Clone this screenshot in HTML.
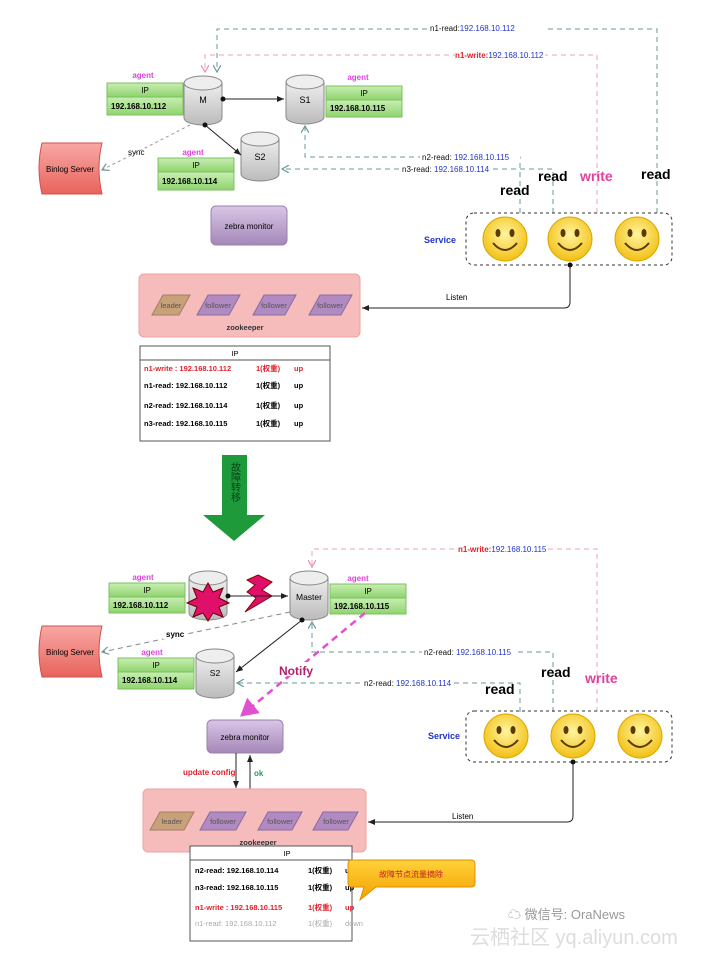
<!DOCTYPE html>
<html><head><meta charset="utf-8"><style>
body{margin:0;background:#fff}
svg{display:block;font-family:"Liberation Sans","Noto Sans CJK SC",sans-serif}
</style></head><body>
<svg width="718" height="958" viewBox="0 0 718 958" xmlns="http://www.w3.org/2000/svg">
<defs>
<linearGradient id="cyl" x1="0" x2="0" y1="0" y2="1"><stop offset="0" stop-color="#eee"/><stop offset="1" stop-color="#bbb"/></linearGradient>
<linearGradient id="zm" x1="0" x2="0" y1="0" y2="1"><stop offset="0" stop-color="#d9c6e6"/><stop offset="1" stop-color="#a487b8"/></linearGradient>
<linearGradient id="bs" x1="0" x2="0" y1="0" y2="1"><stop offset="0" stop-color="#f8a8a4"/><stop offset="1" stop-color="#e8635c"/></linearGradient>
<linearGradient id="gr" x1="0" x2="0" y1="0" y2="1"><stop offset="0" stop-color="#c8eeb4"/><stop offset="1" stop-color="#8fd46e"/></linearGradient>
<radialGradient id="face" cx="0.5" cy="0.4" r="0.6"><stop offset="0" stop-color="#fff4a0"/><stop offset="1" stop-color="#f2c014"/></radialGradient>
<linearGradient id="co" x1="0" x2="0" y1="0" y2="1"><stop offset="0" stop-color="#ffd23a"/><stop offset="1" stop-color="#f4a000"/></linearGradient>
<marker id="ab" markerWidth="8" markerHeight="8" refX="7" refY="4" orient="auto"><path d="M0,1 L7,4 L0,7 Z" fill="#222"/></marker>
<marker id="ag" markerWidth="8" markerHeight="8" refX="7" refY="4" orient="auto"><path d="M0,0 L7,4 L0,8" fill="none" stroke="#6a9a9a" stroke-width="1.2"/></marker>
<marker id="ap" markerWidth="8" markerHeight="8" refX="7" refY="4" orient="auto"><path d="M0,0 L7,4 L0,8" fill="none" stroke="#f08bb0" stroke-width="1.2"/></marker>
<marker id="am" markerWidth="8" markerHeight="8" refX="6" refY="4" orient="auto"><path d="M0,0 L7,4 L0,8 Z" fill="#e050d0"/></marker>
<marker id="dot" markerWidth="6" markerHeight="6" refX="3" refY="3"><circle cx="3" cy="3" r="2.5" fill="#111"/></marker>
<g id="smile"><circle r="22" fill="url(#face)" stroke="#d9a800"/><ellipse cx="-7" cy="-6" rx="2.5" ry="4" fill="#5a3a00"/><ellipse cx="7" cy="-6" rx="2.5" ry="4" fill="#5a3a00"/><path d="M-12,4 Q0,18 12,4" fill="none" stroke="#5a3a00" stroke-width="2"/></g>
</defs>

<!-- ===== TOP ===== -->
<g font-size="8" fill="#111">
<path d="M657,213 V29 H217 V72" fill="none" stroke="#6a9a9a" stroke-dasharray="5,4" marker-end="url(#ag)"/>
<rect x="430" y="22" width="115" height="11" fill="#fff"/>
<text x="430" y="31">n1-read:<tspan fill="#2233cc">192.168.10.112</tspan></text>
<path d="M597,213 V55 H205 V72" fill="none" stroke="#f0a0b8" stroke-dasharray="5,4" marker-end="url(#ap)"/>
<rect x="455" y="49" width="90" height="11" fill="#fff"/>
<text x="455" y="58" fill="#e0202a" font-weight="bold">n1-write:<tspan fill="#2233cc" font-weight="normal">192.168.10.112</tspan></text>
<path d="M520,213 V157 H305 V126" fill="none" stroke="#6a9a9a" stroke-dasharray="5,4" marker-end="url(#ag)"/>
<rect x="420" y="151" width="100" height="11" fill="#fff"/>
<text x="422" y="160">n2-read: <tspan fill="#2233cc">192.168.10.115</tspan></text>
<path d="M553,213 V169 H282" fill="none" stroke="#6a9a9a" stroke-dasharray="5,4" marker-end="url(#ag)"/>
<rect x="400" y="163" width="92" height="11" fill="#fff"/>
<text x="402" y="172">n3-read: <tspan fill="#2233cc">192.168.10.114</tspan></text>
</g>
<g font-weight="bold" font-size="14"><text x="500" y="195">read</text><text x="538" y="181">read</text><text x="580" y="181" fill="#e040a0">write</text><text x="641" y="179">read</text></g>

<!-- M -->
<path d="M184,83 V118 A19,7 0 0 0 222,118 V83" fill="url(#cyl)" stroke="#888"/><ellipse cx="203" cy="83" rx="19" ry="7" fill="#eee" stroke="#888"/>
<text x="203" y="103" font-size="9" text-anchor="middle">M</text>
<path d="M286,82 V117 A19,7 0 0 0 324,117 V82" fill="url(#cyl)" stroke="#888"/><ellipse cx="305" cy="82" rx="19" ry="7" fill="#eee" stroke="#888"/>
<text x="305" y="103" font-size="9" text-anchor="middle">S1</text>
<path d="M241,139 V174 A19,7 0 0 0 279,174 V139" fill="url(#cyl)" stroke="#888"/><ellipse cx="260" cy="139" rx="19" ry="7" fill="#eee" stroke="#888"/>
<text x="260" y="160" font-size="9" text-anchor="middle">S2</text>
<line x1="223" y1="99" x2="284" y2="99" stroke="#222" marker-start="url(#dot)" marker-end="url(#ab)"/>
<line x1="205" y1="125" x2="241" y2="155" stroke="#222" marker-start="url(#dot)" marker-end="url(#ab)"/>
<!-- tables -->
<g font-size="8" font-weight="bold">
<text x="143" y="78" fill="#e040e0" text-anchor="middle">agent</text>
<rect x="107" y="83" width="76" height="14" fill="url(#gr)" stroke="#7cc060"/><rect x="107" y="97" width="76" height="18" fill="url(#gr)" stroke="#7cc060"/>
<text x="145" y="93" text-anchor="middle" font-weight="normal">IP</text><text x="111" y="109">192.168.10.112</text>
<text x="358" y="80" fill="#e040e0" text-anchor="middle">agent</text>
<rect x="326" y="86" width="76" height="14" fill="url(#gr)" stroke="#7cc060"/><rect x="326" y="100" width="76" height="17" fill="url(#gr)" stroke="#7cc060"/>
<text x="364" y="96" text-anchor="middle" font-weight="normal">IP</text><text x="330" y="111">192.168.10.115</text>
<text x="193" y="155" fill="#e040e0" text-anchor="middle">agent</text>
<rect x="158" y="158" width="76" height="14" fill="url(#gr)" stroke="#7cc060"/><rect x="158" y="172" width="76" height="18" fill="url(#gr)" stroke="#7cc060"/>
<text x="196" y="168" text-anchor="middle" font-weight="normal">IP</text><text x="162" y="184">192.168.10.114</text>
</g>
<path d="M42,143 H102 Q96,168 102,194 H42 Q36,168 42,143 Z" fill="url(#bs)" stroke="#d05050"/>
<text x="70" y="172" font-size="8" text-anchor="middle">Binlog Server</text>
<line x1="190" y1="125" x2="102" y2="170" stroke="#999" stroke-dasharray="3,3" marker-end="url(#ag)"/>
<text x="128" y="155" font-size="8">sync</text>
<rect x="211" y="206" width="76" height="39" rx="5" fill="url(#zm)" stroke="#9a80b0"/>
<text x="249" y="229" font-size="8" text-anchor="middle">zebra monitor</text>
<!-- service -->
<rect x="466" y="213" width="206" height="52" rx="8" fill="none" stroke="#333" stroke-dasharray="3,3"/>
<text x="424" y="243" font-size="9" font-weight="bold" fill="#2233cc">Service</text>
<use href="#smile" x="505" y="239"/><use href="#smile" x="570" y="239"/><use href="#smile" x="637" y="239"/>
<path d="M570,265 V302 Q570,308 564,308 H362" fill="none" stroke="#222" marker-start="url(#dot)" marker-end="url(#ab)"/>
<text x="446" y="300" font-size="8">Listen</text>
<!-- zookeeper -->
<rect x="139" y="274" width="221" height="63" rx="5" fill="#f6bcbc" stroke="#f0a0a0"/>
<g font-size="7.5" fill="#555" text-anchor="middle">
<path d="M152,315 L163,295 H190 L179,315 Z" fill="#c8a07a" stroke="#a08060"/><text x="171" y="308">leader</text>
<path d="M197,315 L208,295 H240 L229,315 Z" fill="#b08ac0" stroke="#8a6aa0"/><text x="218" y="308">follower</text>
<path d="M253,315 L264,295 H296 L285,315 Z" fill="#b08ac0" stroke="#8a6aa0"/><text x="274" y="308">follower</text>
<path d="M309,315 L320,295 H352 L341,315 Z" fill="#b08ac0" stroke="#8a6aa0"/><text x="330" y="308">follower</text>
<text x="245" y="330" font-weight="bold" fill="#333">zookeeper</text>
</g>
<rect x="140" y="346" width="190" height="95" fill="#fff" stroke="#555"/><line x1="140" y1="360" x2="330" y2="360" stroke="#555"/>
<g font-size="7.5" font-weight="bold">
<text x="235" y="356" text-anchor="middle" font-weight="normal">IP</text>
<g fill="#e0202a"><text x="144" y="371">n1-write : 192.168.10.112</text><text x="256" y="371">1(权重)</text><text x="294" y="371">up</text></g>
<text x="144" y="388">n1-read:   192.168.10.112</text><text x="256" y="388">1(权重)</text><text x="294" y="388">up</text>
<text x="144" y="408">n2-read:   192.168.10.114</text><text x="256" y="408">1(权重)</text><text x="294" y="408">up</text>
<text x="144" y="426">n3-read:   192.168.10.115</text><text x="256" y="426">1(权重)</text><text x="294" y="426">up</text>
</g>
<!-- big arrow -->
<path d="M222,455 H247 V515 H265 L234,541 L203,515 H222 Z" fill="#1e9a3a"/>
<text x="234" y="462" font-size="10" fill="#0a4018" writing-mode="tb" text-anchor="start">故障转移</text>

<!-- ===== BOTTOM ===== -->
<g font-size="8" fill="#111">
<path d="M597,712 V549 H312 V567" fill="none" stroke="#f0a0b8" stroke-dasharray="5,4" marker-end="url(#ap)"/>
<rect x="458" y="543" width="90" height="11" fill="#fff"/>
<text x="458" y="552" fill="#e0202a" font-weight="bold">n1-write:<tspan fill="#2233cc" font-weight="normal">192.168.10.115</tspan></text>
<path d="M553,712 V652 H312 V622" fill="none" stroke="#6a9a9a" stroke-dasharray="5,4" marker-end="url(#ag)"/>
<rect x="422" y="646" width="92" height="11" fill="#fff"/>
<text x="424" y="655">n2-read: <tspan fill="#2233cc">192.168.10.115</tspan></text>
<path d="M520,712 V683 H237" fill="none" stroke="#6a9a9a" stroke-dasharray="5,4" marker-end="url(#ag)"/>
<rect x="362" y="677" width="92" height="11" fill="#fff"/>
<text x="364" y="686">n2-read: <tspan fill="#2233cc">192.168.10.114</tspan></text>
</g>
<g font-weight="bold" font-size="14"><text x="485" y="694">read</text><text x="541" y="677">read</text><text x="585" y="683" fill="#e040a0">write</text></g>
<!-- failed -->
<path d="M189,578 V613 A19,7 0 0 0 227,613 V578" fill="url(#cyl)" stroke="#888"/><ellipse cx="208" cy="578" rx="19" ry="7" fill="#eee" stroke="#888"/>
<path d="M208,583 L213,592 L223,588 L219,598 L229,603 L219,607 L223,617 L213,613 L208,621 L203,613 L193,617 L197,607 L187,603 L197,598 L193,588 L203,592 Z" fill="#e0106a" stroke="#600"/>
<path d="M258,575 L272,582 L262,590 L272,596 L245,612 L256,598 L247,592 L255,585 L247,580 Z" fill="#e0106a" stroke="#800"/>
<line x1="228" y1="596" x2="288" y2="596" stroke="#222" marker-start="url(#dot)" marker-end="url(#ab)"/>
<path d="M290,578 V613 A19,7 0 0 0 328,613 V578" fill="url(#cyl)" stroke="#888"/><ellipse cx="309" cy="578" rx="19" ry="7" fill="#eee" stroke="#888"/>
<text x="309" y="600" font-size="8.5" text-anchor="middle">Master</text>
<path d="M196,656 V691 A19,7 0 0 0 234,691 V656" fill="url(#cyl)" stroke="#888"/><ellipse cx="215" cy="656" rx="19" ry="7" fill="#eee" stroke="#888"/>
<text x="215" y="676" font-size="8.5" text-anchor="middle">S2</text>
<line x1="302" y1="620" x2="236" y2="672" stroke="#222" marker-start="url(#dot)" marker-end="url(#ab)"/>
<g font-size="8" font-weight="bold">
<text x="143" y="580" fill="#e040e0" text-anchor="middle">agent</text>
<rect x="109" y="583" width="76" height="14" fill="url(#gr)" stroke="#7cc060"/><rect x="109" y="597" width="76" height="16" fill="url(#gr)" stroke="#7cc060"/>
<text x="147" y="593" text-anchor="middle" font-weight="normal">IP</text><text x="113" y="608">192.168.10.112</text>
<text x="358" y="581" fill="#e040e0" text-anchor="middle">agent</text>
<rect x="330" y="584" width="76" height="14" fill="url(#gr)" stroke="#7cc060"/><rect x="330" y="598" width="76" height="16" fill="url(#gr)" stroke="#7cc060"/>
<text x="368" y="594" text-anchor="middle" font-weight="normal">IP</text><text x="334" y="609">192.168.10.115</text>
<text x="152" y="655" fill="#e040e0" text-anchor="middle">agent</text>
<rect x="118" y="658" width="76" height="14" fill="url(#gr)" stroke="#7cc060"/><rect x="118" y="672" width="76" height="17" fill="url(#gr)" stroke="#7cc060"/>
<text x="156" y="668" text-anchor="middle" font-weight="normal">IP</text><text x="122" y="683">192.168.10.114</text>
</g>
<path d="M42,626 H102 Q96,651 102,677 H42 Q36,651 42,626 Z" fill="url(#bs)" stroke="#d05050"/>
<text x="70" y="655" font-size="8" text-anchor="middle">Binlog Server</text>
<line x1="290" y1="612" x2="102" y2="652" stroke="#888" stroke-dasharray="5,4" marker-end="url(#ag)"/>
<rect x="163" y="628" width="24" height="11" fill="#fff"/><text x="166" y="637" font-size="8" font-weight="bold">sync</text>
<line x1="365" y1="613" x2="242" y2="715" stroke="#e050d0" stroke-width="2.5" stroke-dasharray="7,5" marker-end="url(#am)"/>
<rect x="278" y="662" width="36" height="14" fill="#fff"/><text x="279" y="675" font-size="12" font-weight="bold" fill="#b0206a">Notify</text>
<rect x="207" y="720" width="76" height="33" rx="5" fill="url(#zm)" stroke="#9a80b0"/>
<text x="245" y="740" font-size="8" text-anchor="middle">zebra monitor</text>
<line x1="236" y1="753" x2="236" y2="788" stroke="#222" marker-end="url(#ab)"/>
<line x1="250" y1="790" x2="250" y2="755" stroke="#222" marker-end="url(#ab)"/>
<text x="183" y="775" font-size="8" font-weight="bold" fill="#e0202a">update config</text>
<text x="254" y="776" font-size="8" font-weight="bold" fill="#20a060">ok</text>
<rect x="466" y="711" width="206" height="51" rx="8" fill="none" stroke="#333" stroke-dasharray="3,3"/>
<text x="428" y="739" font-size="9" font-weight="bold" fill="#2233cc">Service</text>
<use href="#smile" x="506" y="736"/><use href="#smile" x="573" y="736"/><use href="#smile" x="640" y="736"/>
<path d="M573,762 V816 Q573,822 567,822 H368" fill="none" stroke="#222" marker-start="url(#dot)" marker-end="url(#ab)"/>
<text x="452" y="819" font-size="8">Listen</text>
<rect x="143" y="789" width="223" height="63" rx="5" fill="#f6bcbc" stroke="#f0a0a0"/>
<g font-size="7.5" fill="#555" text-anchor="middle">
<path d="M150,830 L160,812 H194 L184,830 Z" fill="#c8a07a" stroke="#a08060"/><text x="172" y="824">leader</text>
<path d="M200,830 L210,812 H246 L236,830 Z" fill="#b08ac0" stroke="#8a6aa0"/><text x="223" y="824">follower</text>
<path d="M258,830 L268,812 H302 L292,830 Z" fill="#b08ac0" stroke="#8a6aa0"/><text x="280" y="824">follower</text>
<path d="M313,830 L323,812 H358 L348,830 Z" fill="#b08ac0" stroke="#8a6aa0"/><text x="336" y="824">follower</text>
<text x="258" y="845" font-weight="bold" fill="#333">zookeeper</text>
</g>
<rect x="190" y="846" width="162" height="95" fill="#fff" stroke="#555"/><line x1="190" y1="860" x2="352" y2="860" stroke="#555"/>
<g font-size="7.5" font-weight="bold">
<text x="287" y="856" text-anchor="middle" font-weight="normal">IP</text>
<text x="195" y="873">n2-read:   192.168.10.114</text><text x="308" y="873">1(权重)</text><text x="345" y="873">up</text>
<text x="195" y="890">n3-read:   192.168.10.115</text><text x="308" y="890">1(权重)</text><text x="345" y="890">up</text>
<g fill="#e0202a"><text x="195" y="910">n1-write : 192.168.10.115</text><text x="308" y="910">1(权重)</text><text x="345" y="910">up</text></g>
<g fill="#aaa" font-weight="normal"><text x="195" y="926">n1-read:   192.168.10.112</text><text x="308" y="926">1(权重)</text><text x="345" y="926">down</text></g>
</g>
<path d="M352,860 H471 Q475,860 475,864 V883 Q475,887 471,887 H376 L360,900 L364,887 H352 Q348,887 348,883 V864 Q348,860 352,860 Z" fill="url(#co)" stroke="#e09000"/>
<text x="411" y="877" font-size="8" fill="#c02020" text-anchor="middle">故障节点流量摘除</text>
<!-- watermark -->
<g fill="#c8c8c8">
<text x="508" y="919" font-size="13" fill="#999">☁ 微信号: OraNews</text>
<text x="470" y="944" font-size="20" fill="#ddd">云栖社区 yq.aliyun.com</text>
</g>
</svg>
</body></html>
